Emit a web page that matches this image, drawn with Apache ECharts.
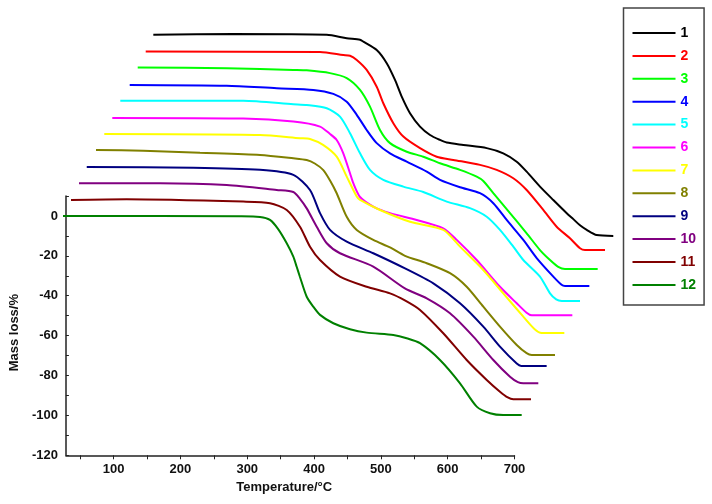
<!DOCTYPE html>
<html>
<head>
<meta charset="utf-8">
<script src="https://cdn.jsdelivr.net/npm/echarts@6/dist/echarts.min.js"></script>
<style>html,body{margin:0;padding:0;background:#fff}#c{width:712px;height:504px}</style>
</head>
<body>
<div id="c"></div>
<script>
// [temperature °C, mass (offset, %)] pairs
const curve1 = [[162.9,90.9],[281.9,91.2],[420.8,90.8],[450.5,89.1],[470.3,88.3],[475.2,87.4],[495.1,83.2],[510.0,76.6],[522.3,68.2],[532.3,59.8],[544.6,51.5],[559.5,44.8],[574.4,40.6],[589.2,38.1],[599.2,36.8],[623.9,35.6],[658.7,34.0],[683.3,31.4],[703.3,27.2],[718.1,22.2],[737.9,14.7],[757.7,8.0],[777.7,1.4],[787.5,-1.6],[797.4,-4.7],[807.4,-7.0],[822.2,-9.6],[846.9,-10.0]];
const curve2 = [[151.6,82.4],[410.8,82.2],[445.4,80.7],[455.4,80.3],[465.4,78.2],[480.2,73.2],[495.1,64.8],[504.9,56.5],[519.8,46.5],[534.7,39.8],[559.5,34.0],[584.3,29.7],[609.0,28.1],[648.7,25.6],[673.5,23.1],[698.2,18.9],[718.1,13.0],[742.8,3.0],[762.7,-5.4],[782.5,-11.2],[797.4,-16.2],[804.8,-17.1],[834.6,-17.1]];
const curve3 = [[139.7,74.4],[272.0,74.1],[371.1,73.2],[391.0,73.0],[425.7,71.6],[450.5,69.1],[470.3,63.2],[485.1,54.8],[500.0,43.1],[514.9,36.5],[539.7,32.2],[564.4,29.7],[589.2,26.4],[619.0,23.1],[643.8,19.7],[653.6,17.5],[668.5,11.4],[693.3,1.4],[718.1,-8.7],[737.9,-17.1],[752.8,-22.1],[765.0,-25.5],[775.1,-26.6],[823.7,-26.6]];
const curve4 = [[127.8,65.7],[272.0,65.3],[346.4,64.0],[400.8,63.2],[430.6,61.2],[450.5,57.3],[465.4,50.7],[480.2,43.1],[495.1,36.5],[514.9,31.4],[539.7,27.2],[569.5,22.2],[589.2,18.1],[619.0,14.4],[648.7,11.4],[668.5,6.4],[688.4,-2.0],[713.1,-12.0],[733.0,-21.1],[757.7,-30.4],[770.0,-34.5],[775.1,-35.1],[811.3,-35.1]];
const curve5 = [[113.8,57.8],[296.7,57.7],[371.1,56.0],[391.0,55.6],[420.8,54.0],[440.5,49.8],[455.4,41.5],[470.3,31.4],[485.1,23.1],[504.9,18.1],[534.7,14.7],[564.4,12.0],[599.2,7.2],[633.8,3.9],[658.7,-0.4],[678.4,-7.0],[698.2,-15.4],[713.1,-22.1],[737.9,-30.4],[752.8,-38.8],[762.0,-41.8],[770.2,-42.6],[797.4,-42.6]];
const curve6 = [[101.9,49.1],[296.7,48.8],[371.1,47.3],[410.8,44.8],[425.7,41.1],[435.6,38.1],[445.4,31.4],[455.4,21.4],[460.3,16.4],[470.3,9.5],[490.0,4.7],[514.9,1.4],[554.6,-2.0],[594.1,-6.2],[614.1,-12.0],[643.8,-22.1],[678.4,-35.5],[703.3,-43.8],[718.0,-48.5],[725.6,-49.8],[786.0,-49.8]];
const curve7 = [[90.0,41.1],[321.6,40.6],[381.0,39.0],[395.9,38.6],[415.3,35.6],[435.6,29.7],[450.5,19.7],[465.4,9.7],[470.3,8.0],[500.0,3.0],[544.6,-2.9],[594.1,-7.0],[619.0,-15.4],[653.6,-27.1],[683.3,-38.8],[713.1,-50.5],[730.0,-56.8],[740.4,-58.7],[774.1,-58.7]];
const curve8 = [[77.7,33.1],[148.0,32.7],[232.3,31.7],[321.6,30.6],[371.1,28.9],[391.0,28.0],[403.0,26.3],[415.7,23.0],[425.7,17.8],[435.6,11.4],[450.5,-0.4],[465.4,-7.0],[490.0,-12.0],[514.9,-15.8],[537.2,-20.0],[569.5,-23.7],[604.1,-28.7],[628.9,-35.5],[653.6,-45.5],[678.4,-55.5],[703.3,-64.7],[718.0,-68.8],[725.6,-69.7],[760.2,-69.7]];
const curve9 = [[63.9,24.6],[222.4,24.2],[321.6,23.1],[371.1,20.6],[395.9,13.0],[410.8,1.4],[425.7,-7.0],[450.5,-12.9],[490.0,-18.7],[537.2,-26.3],[579.3,-33.8],[619.0,-43.8],[653.6,-55.5],[678.4,-65.5],[703.3,-74.0],[710.0,-75.2],[747.8,-75.2]];
const curve10 = [[52.4,16.4],[172.9,16.4],[272.0,15.5],[346.4,13.0],[371.1,12.0],[381.0,8.6],[391.0,3.8],[405.9,-5.4],[420.8,-13.7],[440.5,-18.7],[490.0,-25.4],[537.0,-36.3],[569.5,-41.3],[604.1,-48.8],[638.8,-60.5],[668.5,-72.2],[693.3,-80.6],[705.0,-83.3],[713.1,-83.9],[735.4,-83.9]];
const curve11 = [[40.5,8.0],[123.3,8.4],[296.7,7.2],[336.4,6.4],[361.3,3.0],[381.0,-5.4],[395.9,-15.4],[410.8,-22.1],[440.5,-30.4],[480.2,-35.5],[514.9,-38.8],[537.0,-42.3],[559.5,-47.1],[594.1,-58.8],[628.9,-72.2],[658.7,-82.2],[678.4,-88.1],[690.0,-91.0],[698.2,-91.9],[724.5,-91.9]];
const curve12 = [[28.6,0],[291.8,-0.2],[321.6,-0.5],[336.4,-2.0],[348.3,-6.5],[361.3,-13.7],[371.1,-20.4],[376.1,-25.5],[381.0,-30.6],[391.0,-40.5],[400.8,-45.5],[410.8,-49.6],[430.6,-53.8],[455.4,-56.8],[480.2,-58.5],[519.8,-59.7],[539.7,-61.3],[559.5,-63.8],[589.2,-72.2],[619.0,-83.9],[643.8,-95.6],[663.6,-98.9],[683.3,-99.8],[710.7,-99.8]];

const seriesNames = ['1','2','3','4','5','6','7','8','9','10','11','12'];
const xTickValues = [50,100,150,200,250,300,350,400,450,500,550,600,650,700];
const xLabelValues = [100,200,300,400,500,600,700];
const yTickValues = [-120,-110,-100,-90,-80,-70,-60,-50,-40,-30,-20,-10,0,10];
const yLabelValues = [-120,-100,-80,-60,-40,-20,0];

const curves = [curve1,curve2,curve3,curve4,curve5,curve6,curve7,curve8,curve9,curve10,curve11,curve12];
const colors = ['#000000','#ff0000','#00ff00','#0000ff','#00ffff','#ff00ff','#ffff00','#808000','#000080','#800080','#800000','#008000'];
const FONT = 'Arial, "Liberation Sans", sans-serif';

// Visible axes: x 28.6..700, y -120..10. Plot grid: same scale, wider extent so the offset curves fit.
const X_MIN = 28.6, X_MAX = 700, X_PLOT_MAX = 860;
const Y_MIN = -120, Y_MAX = 10, Y_PLOT_MAX = 100;
const L = 63, R = 197.5, T = 196, B = 48.7, W = 712, H = 504;
const pxPerX = (W - L - R) / (X_MAX - X_MIN);
const pxPerY = (H - T - B) / (Y_MAX - Y_MIN);
const plotRight = W - L - (X_PLOT_MAX - X_MIN) * pxPerX;
const plotTop = H - B - (Y_PLOT_MAX - Y_MIN) * pxPerY;

const chart = echarts.init(document.getElementById('c'), null, {renderer:'canvas'});
chart.setOption({
  animation: false,
  backgroundColor: '#fff',
  grid: [
    {left: L, right: R, top: T, bottom: B, containLabel: false},
    {left: L, right: plotRight, top: plotTop, bottom: B, containLabel: false}
  ],
  xAxis: [{
    type: 'value', gridIndex: 0, min: X_MIN, max: X_MAX,
    name: 'Temperature/°C', nameLocation: 'middle', nameGap: 21,
    nameTextStyle: {fontFamily: FONT, fontSize: 13, fontWeight: 'bold', color: '#111', padding: [0, 12, 0, 0]},
    axisLine: {show: true, onZero: false, lineStyle: {color: '#222', width: 1.5}},
    axisTick: {show: true, length: 4, customValues: xTickValues, lineStyle: {color: '#222', width: 1}},
    axisLabel: {customValues: xLabelValues, margin: 8, fontFamily: FONT, fontSize: 13, fontWeight: 'bold', color: '#111'},
    splitLine: {show: false}
  }, {
    type: 'value', gridIndex: 1, min: X_MIN, max: X_PLOT_MAX, show: false,
    axisLine: {onZero: false}, splitLine: {show: false}
  }],
  yAxis: [{
    type: 'value', gridIndex: 0, min: Y_MIN, max: Y_MAX,
    name: 'Mass loss/%', nameLocation: 'middle', nameGap: 43, nameRotate: 90,
    nameTextStyle: {fontFamily: FONT, fontSize: 13, fontWeight: 'bold', color: '#111', padding: [0, 14, 0, 0]},
    axisLine: {show: true, onZero: false, lineStyle: {color: '#222', width: 1.5}},
    axisTick: {show: true, inside: true, length: 3, customValues: yTickValues, lineStyle: {color: '#222', width: 1}},
    axisLabel: {customValues: yLabelValues, margin: 8, fontFamily: FONT, fontSize: 13, fontWeight: 'bold', color: '#111'},
    splitLine: {show: false}
  }, {
    type: 'value', gridIndex: 1, min: Y_MIN, max: Y_PLOT_MAX, show: false,
    axisLine: {onZero: false}, splitLine: {show: false}
  }],
  legend: {
    orient: 'vertical', left: 623.5, top: 8,
    itemWidth: 43, itemHeight: 14, itemGap: 8.9,
    padding: [18, 8, 13, 8],
    borderColor: '#444', borderWidth: 1.5, backgroundColor: '#fff',
    itemStyle: {opacity: 0},
    textStyle: {fontFamily: FONT, fontSize: 14, fontWeight: 'bold', lineHeight: 14},
    data: seriesNames.map((n, i) => ({name: n, textStyle: {color: colors[i]}}))
  },
  series: seriesNames.map((n, i) => ({
    name: n, type: 'line', xAxisIndex: 1, yAxisIndex: 1,
    data: curves[i], symbol: 'none', clip: false,
    smooth: 0.25,
    silent: true,
    lineStyle: {color: colors[i], width: 2},
    itemStyle: {color: colors[i], opacity: 0}
  }))
});
</script>
</body>
</html>
